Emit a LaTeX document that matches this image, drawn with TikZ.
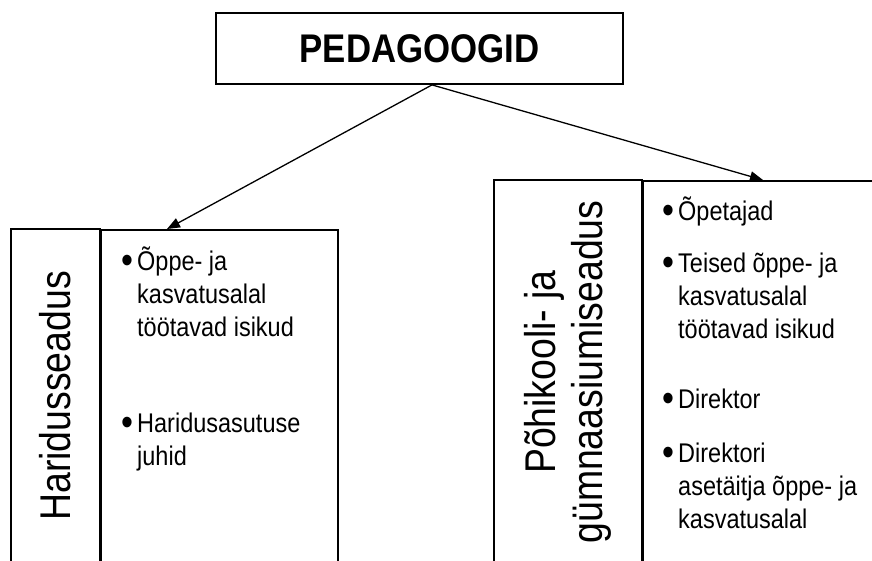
\documentclass[tikz,border=0pt]{standalone}
\usepackage{fontspec}
\setmainfont[FakeStretch=0.87]{Liberation Sans}
\usetikzlibrary{arrows.meta,positioning}

\newcommand{\bul}[1]{\makebox[14pt][l]{\makebox[8pt][c]{\raisebox{-3.5pt}{\scalebox{1.45}{\textbullet}}}}\parbox[t]{190pt}{#1}}

\begin{document}
\begin{tikzpicture}[x=1pt,y=-1pt,>={Triangle[length=13pt,width=10pt]},
    box/.style={draw,line width=1.8pt,inner sep=0pt},
    law/.style={box,rotate=90,align=center,font=\fontsize{43}{47}\selectfont},
    item/.style={anchor=base west,inner sep=0pt,font=\fontsize{27}{33}\selectfont}]
  \useasboundingbox (0,0) rectangle (872,560);
  \clip (0,0) rectangle (872,560);
  % Top box
  \node[box,minimum width=407pt,minimum height=71pt,font=\fontsize{40}{48}\selectfont\bfseries] (ped) at (419.5,48.5) {PEDAGOOGID};
  % Haridusseadus
  \node[law,minimum width=334pt,minimum height=89pt] (hs) at (55.5,396) {Haridusseadus};
  \node[box,anchor=north west,minimum width=237pt,minimum height=334pt] (hsl) at (100,229) {};
  \node[item] (hs1) at (123,270) {\bul{Õppe- ja\\kasvatusalal\\töötavad isikud}};
  \node[item] (hs2) at (123,432) {\bul{Haridusasutuse\\juhid}};
  % Pohikooli- ja gymnaasiumiseadus
  \node[law,minimum width=384pt,minimum height=148pt] (pg) at (568,372) {Põhikooli- ja\\gümnaasiumiseadus};
  \node[box,anchor=north west,minimum width=250pt,minimum height=384pt] (pgl) at (642,180) {};
  \node[item] (pg1) at (664,220) {\bul{Õpetajad}};
  \node[item] (pg2) at (664,272) {\bul{Teised õppe- ja\\kasvatusalal\\töötavad isikud}};
  \node[item] (pg3) at (664,408) {\bul{Direktor}};
  \node[item] (pg4) at (664,462) {\bul{Direktori\\asetäitja õppe- ja\\kasvatusalal}};
  % Arrows
  \draw[->,line width=1.3pt] ([xshift=12.5pt]ped.south) -- ([xshift=67pt]hsl.north west);
  \draw[->,line width=1.3pt] ([xshift=12.5pt]ped.south) -- ([xshift=121pt]pgl.north west);
\end{tikzpicture}
\end{document}
